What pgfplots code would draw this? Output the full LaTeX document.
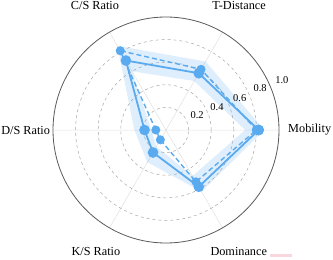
\documentclass[border=0pt]{standalone}
\usepackage{fontspec}
\setmainfont{Liberation Serif}
\usepackage{pgfplots}
\pgfplotsset{compat=1.18}
\usepgfplotslibrary{polar}
\definecolor{main}{HTML}{5AAAF0}
\definecolor{pinkish}{RGB}{250,214,222}
\begin{document}
\begin{tikzpicture}[x=1bp,y=1bp]
\path[use as bounding box] (-166,-130) rectangle (167,130);
\clip (-166,-130) rectangle (167,130);
\begin{polaraxis}[
  at={(0,0)}, anchor=center,
  width=226bp, height=226bp, scale only axis,
  ymin=0, ymax=1,
  xtick={0,60,...,300}, xticklabels={},
  ytick={0.2,0.4,0.6,0.8}, yticklabels={},
  grid=major,
  x grid style={black!12, line width=0.5pt},
  y grid style={black!35, dashed, line width=0.5pt},
  separate axis lines,
  x axis line style={black!65, line width=0.8pt},
  y axis line style={draw=none},
  major tick length=0pt,
  clip=false,
  font=\fontsize{12.3}{14}\selectfont,
]
% band
\addplot[draw=none, fill=main, fill opacity=0.2] coordinates {
  (0,0.87) (60,0.70) (120,0.86) (180,0.28) (240,0.33) (300,0.63) (360,0.87)
  (360,0.70) (300,0.47) (240,0.17) (180,0.13) (120,0.60) (60,0.50) (0,0.70)
};
% dashed series
\addplot[main, line width=1.4pt, dash pattern=on 5pt off 3pt, mark=*, mark size=3.8pt, mark options={solid, fill=main, draw=main}] coordinates {
  (0,0.80) (60,0.62) (120,0.81) (180,0.09) (240,0.10) (300,0.53) (360,0.80)
};
% solid series
\addplot[main, line width=1.8pt, mark=*, mark size=4.4pt, mark options={solid, fill=main, draw=main}] coordinates {
  (0,0.82) (60,0.58) (120,0.71) (180,0.19) (240,0.23) (300,0.58) (360,0.82)
};
% category labels
\node[anchor=west, inner sep=0pt] at (axis cs:0,1.08) {Mobility};
\node at (axis cs:59.5,1.275) {T-Distance};
\node at (axis cs:119.8,1.265) {C/S Ratio};
\node[anchor=east, inner sep=0pt] at (axis cs:180,1.025) {D/S Ratio};
\node at (axis cs:240,1.24) {K/S Ratio};
\node at (axis cs:301,1.25) {Dominance};
% radial labels
\node[font=\fontsize{10.5}{12}\selectfont] at (axis cs:25.5,0.305) {0.2};
\node[font=\fontsize{10.5}{12}\selectfont] at (axis cs:24.3,0.495) {0.4};
\node[font=\fontsize{10.5}{12}\selectfont] at (axis cs:23.6,0.712) {0.6};
\node[font=\fontsize{10.5}{12}\selectfont] at (axis cs:24,0.912) {0.8};
\node[font=\fontsize{10.5}{12}\selectfont] at (axis cs:23.4,1.118) {1.0};
\end{polaraxis}
\fill[pinkish] (104,-124) rectangle (126,-127);
\end{tikzpicture}
\end{document}
